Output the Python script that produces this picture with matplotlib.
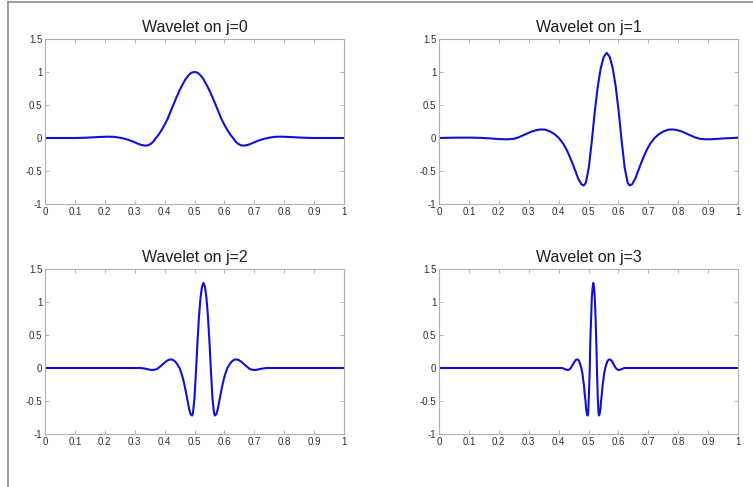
import matplotlib
matplotlib.use("Agg")
import matplotlib.pyplot as plt
from matplotlib.lines import Line2D
from matplotlib.ticker import FuncFormatter

plt.rcParams['font.family'] = ['Liberation Sans', 'DejaVu Sans']

# ---- data ----
titles = ['Wavelet on j=0', 'Wavelet on j=1', 'Wavelet on j=2', 'Wavelet on j=3']

j0_x = [0.0, 0.05, 0.10, 0.14, 0.18, 0.21, 0.23, 0.25,
        0.265, 0.28, 0.295, 0.31, 0.322, 0.335, 0.345, 0.355, 0.363, 0.371,
        0.38, 0.39, 0.40, 0.41, 0.42, 0.43, 0.44, 0.45, 0.46, 0.47, 0.48, 0.49, 0.50,
        0.51, 0.52, 0.53, 0.54, 0.55, 0.56, 0.57, 0.58, 0.59, 0.60, 0.61, 0.62,
        0.629, 0.637, 0.645, 0.655, 0.665, 0.678, 0.69, 0.705, 0.72, 0.735,
        0.75, 0.77, 0.79, 0.82, 0.86, 0.90, 0.95, 1.0]
j0_y = [0.0, 0.0, 0.0, 0.005, 0.015, 0.02, 0.018, 0.005,
        -0.01, -0.03, -0.055, -0.085, -0.105, -0.116, -0.11, -0.085, -0.05, 0.0,
        0.05, 0.12, 0.20, 0.29, 0.40, 0.51, 0.62, 0.72, 0.81, 0.89, 0.95, 0.99, 1.0,
        0.99, 0.95, 0.89, 0.81, 0.72, 0.62, 0.51, 0.40, 0.29, 0.20, 0.12, 0.05,
        0.0, -0.05, -0.085, -0.11, -0.116, -0.105, -0.085, -0.055, -0.03, -0.01,
        0.005, 0.018, 0.02, 0.015, 0.005, 0.0, 0.0, 0.0]

j1_x = [0.0, 0.05, 0.10, 0.14, 0.17, 0.19, 0.21, 0.23, 0.25,
        0.266, 0.281, 0.296, 0.311, 0.326, 0.341, 0.356, 0.371, 0.386, 0.401,
        0.416, 0.426, 0.436, 0.446, 0.456, 0.466, 0.476, 0.484,
        0.491, 0.501, 0.511, 0.521, 0.531, 0.541, 0.551, 0.561,
        0.571, 0.581, 0.591, 0.601, 0.611, 0.621, 0.631, 0.638,
        0.646, 0.656, 0.666, 0.676, 0.686, 0.696, 0.706, 0.721,
        0.736, 0.751, 0.766, 0.781, 0.796, 0.811, 0.826, 0.841, 0.856,
        0.872, 0.892, 0.912, 0.932, 0.952, 0.982, 1.0]
j1_y = [0.0, 0.005, 0.006, 0.002, -0.006, -0.013, -0.018, -0.02, -0.012,
        0.01, 0.04, 0.07, 0.10, 0.12, 0.13, 0.125, 0.10, 0.06, 0.0,
        -0.09, -0.17, -0.27, -0.38, -0.50, -0.62, -0.70, -0.72,
        -0.68, -0.45, -0.05, 0.40, 0.78, 1.06, 1.23, 1.29,
        1.23, 1.06, 0.78, 0.40, -0.05, -0.45, -0.68, -0.72,
        -0.70, -0.62, -0.50, -0.38, -0.27, -0.17, -0.09, 0.0,
        0.06, 0.10, 0.125, 0.13, 0.12, 0.10, 0.07, 0.04, 0.01,
        -0.012, -0.02, -0.018, -0.013, -0.006, 0.0, 0.005]

j2_x = [0.0, 0.32, 0.335, 0.345, 0.355, 0.365, 0.375,
        0.382, 0.39, 0.397, 0.405, 0.412, 0.42, 0.427, 0.435, 0.442, 0.45,
        0.457, 0.462, 0.467, 0.472, 0.477, 0.482, 0.487, 0.492,
        0.495, 0.50, 0.505, 0.51, 0.515, 0.52, 0.525, 0.53,
        0.535, 0.54, 0.545, 0.55, 0.555, 0.56, 0.565, 0.568,
        0.573, 0.578, 0.583, 0.588, 0.593, 0.598, 0.603, 0.61,
        0.618, 0.625, 0.633, 0.64, 0.648, 0.655, 0.663, 0.67, 0.678,
        0.685, 0.695, 0.705, 0.715, 0.725, 0.74, 0.75, 1.0]
j2_y = [0.0, 0.0, -0.01, -0.02, -0.03, -0.028, -0.015,
        0.01, 0.04, 0.07, 0.10, 0.12, 0.13, 0.125, 0.10, 0.06, 0.0,
        -0.09, -0.17, -0.27, -0.38, -0.50, -0.62, -0.70, -0.72,
        -0.68, -0.45, -0.05, 0.40, 0.78, 1.06, 1.23, 1.29,
        1.23, 1.06, 0.78, 0.40, -0.05, -0.45, -0.68, -0.72,
        -0.70, -0.62, -0.50, -0.38, -0.27, -0.17, -0.09, 0.0,
        0.06, 0.10, 0.125, 0.13, 0.12, 0.10, 0.07, 0.04, 0.01,
        -0.015, -0.028, -0.03, -0.02, -0.01, 0.0, 0.0, 0.0]

j3_x = [0.0, 0.411, 0.418, 0.423, 0.428, 0.433, 0.438,
        0.442, 0.446, 0.450, 0.454, 0.457, 0.461, 0.465, 0.469, 0.472, 0.476,
        0.480, 0.482, 0.485, 0.487, 0.490, 0.492, 0.495, 0.497,
        0.499, 0.501, 0.504, 0.506, 0.509, 0.511, 0.514, 0.516,
        0.5185, 0.521, 0.5235, 0.526, 0.5285, 0.531, 0.5335, 0.535,
        0.537, 0.540, 0.542, 0.545, 0.547, 0.550, 0.552, 0.556,
        0.560, 0.563, 0.567, 0.571, 0.575, 0.579, 0.582, 0.586, 0.590,
        0.594, 0.599, 0.604, 0.609, 0.614, 0.621, 0.63, 1.0]
j3_y = [0.0, 0.0, -0.01, -0.02, -0.03, -0.028, -0.015,
        0.01, 0.04, 0.07, 0.10, 0.12, 0.13, 0.125, 0.10, 0.06, 0.0,
        -0.09, -0.17, -0.27, -0.38, -0.50, -0.62, -0.70, -0.72,
        -0.68, -0.45, -0.05, 0.40, 0.78, 1.06, 1.23, 1.29,
        1.23, 1.06, 0.78, 0.40, -0.05, -0.45, -0.68, -0.72,
        -0.70, -0.62, -0.50, -0.38, -0.27, -0.17, -0.09, 0.0,
        0.06, 0.10, 0.125, 0.13, 0.12, 0.10, 0.07, 0.04, 0.01,
        -0.015, -0.028, -0.03, -0.02, -0.01, 0.0, 0.0, 0.0]

x_ticks = [0, 0.1, 0.2, 0.3, 0.4, 0.5, 0.6, 0.7, 0.8, 0.9, 1]
y_ticks = [-1, -0.5, 0, 0.5, 1, 1.5]

series = [(j0_x, j0_y), (j1_x, j1_y), (j2_x, j2_y), (j3_x, j3_y)]

# ---- layout (matlab style 2x2 subplot) ----
W, H = 753, 487
fig = plt.figure(figsize=(W / 100, H / 100), dpi=100)
fig.patch.set_facecolor('white')

lefts = [45, 439]
tops = [39, 269]
aw, ah = 299, 165

# frame around the picture (top and left only)
fig.add_artist(Line2D([8 / W, 1], [1 - 2 / H, 1 - 2 / H], color='#8c8c8c', lw=1.2))
fig.add_artist(Line2D([8 / W, 8 / W], [0, 1 - 2 / H], color='#8c8c8c', lw=1.2))

fmt = FuncFormatter(lambda v, p: '%g' % v)

for k, (xs, ys) in enumerate(series):
    r, c = divmod(k, 2)
    ax = fig.add_axes([lefts[c] / W, 1 - (tops[r] + ah) / H, aw / W, ah / H])
    ax.plot(xs, ys, color='#1010d8', lw=1.5)
    ax.set_xlim(0, 1)
    ax.set_ylim(-1, 1.5)
    ax.set_xticks(x_ticks)
    ax.set_yticks(y_ticks)
    ax.xaxis.set_major_formatter(fmt)
    ax.yaxis.set_major_formatter(fmt)
    ax.tick_params(direction='in', length=3, width=0.6, colors='#a8a8a8',
                   labelcolor='#303030', labelsize=7, pad=2,
                   top=True, right=True)
    for s in ax.spines.values():
        s.set_color('#b0b0b0')
        s.set_linewidth(0.8)
    ax.set_title(titles[k], fontsize=11.5, color='#1e1e1e', pad=5)

fig.savefig('out.png', dpi=100)
